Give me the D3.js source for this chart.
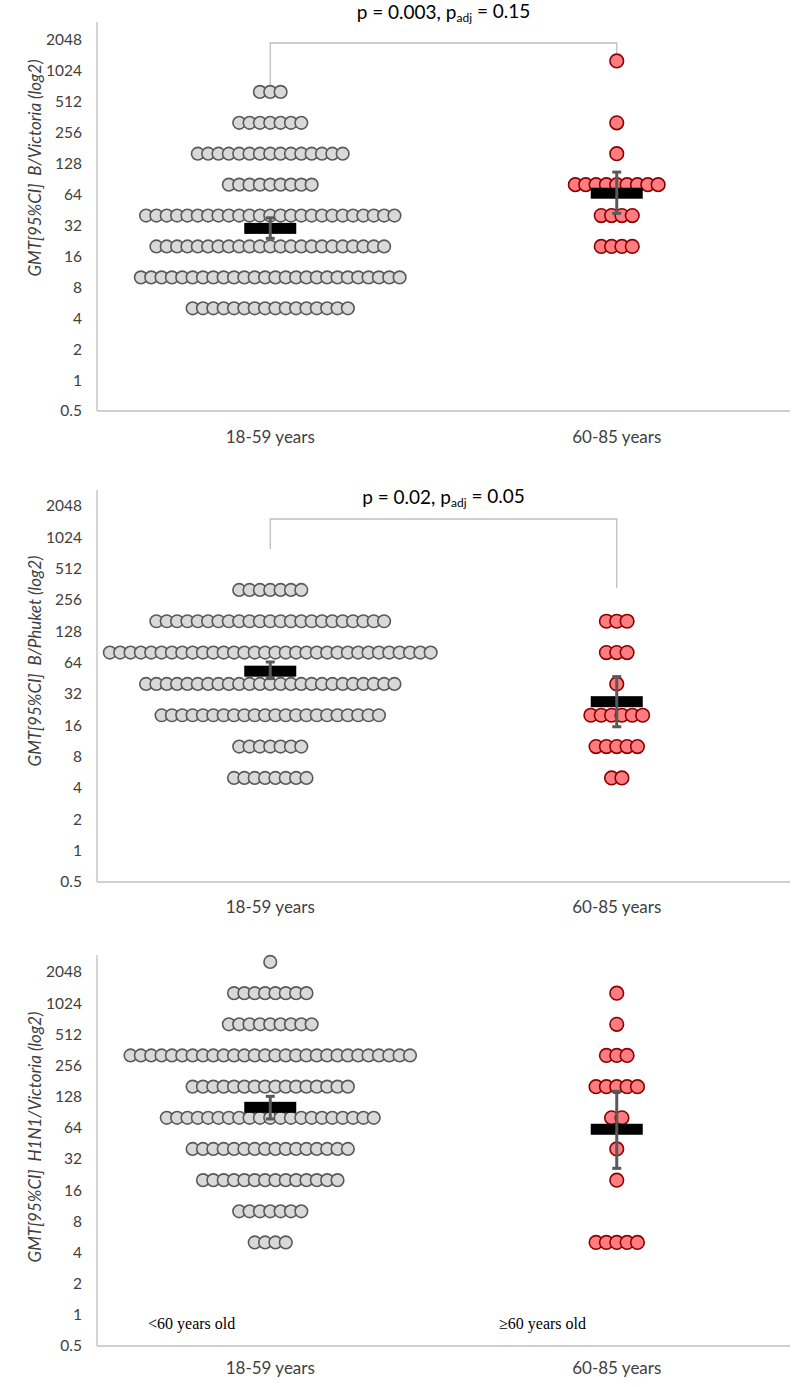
<!doctype html>
<html lang="en">
<head>
  <meta charset="UTF-8">
  <title>GMT by age group</title>
  <script src="https://cdn.jsdelivr.net/npm/d3@7"></script>
  <style>
    body { margin: 0; background: #fff; }
    .sans { font-family: Lato, "Open Sans", sans-serif; }
    .serif { font-family: "Liberation Serif", "DejaVu Serif", serif; }
    .pre { white-space: pre; }
  </style>
</head>
<body>
<div id="container"></div>
<script type="text/javascript">
// axis + groups
var tickValues = [0.5, 1, 2, 4, 8, 16, 32, 64, 128, 256, 512, 1024, 2048];
var groups = ['18-59 years', '60-85 years'];

// panel 1: B/Victoria
var titers1 = [5, 10, 20, 40, 80, 160, 320, 640, 1280];
var young1  = [16, 26, 23, 25, 9, 15, 7, 3, 0];
var old1    = [0, 0, 4, 4, 9, 1, 1, 0, 1];
var gmt1    = [30, 66];
var ciLow1  = [24, 42];
var ciHigh1 = [38, 106];

// panel 2: B/Phuket
var titers2 = [5, 10, 20, 40, 80, 160, 320];
var young2  = [8, 7, 22, 25, 32, 23, 7];
var old2    = [2, 5, 6, 1, 3, 3, 0];
var gmt2    = [53, 27];
var ciLow2  = [45, 15.5];
var ciHigh2 = [65, 47];

// panel 3: H1N1/Victoria
var titers3 = [5, 10, 20, 40, 80, 160, 320, 640, 1280, 2560];
var young3  = [4, 7, 14, 16, 21, 16, 28, 9, 8, 1];
var old3    = [5, 0, 1, 1, 2, 5, 3, 1, 1, 0];
var gmt3    = [101, 62];
var ciLow3  = [78, 26];
var ciHigh3 = [129, 144];

var svg = d3.select('#container').append('svg')
  .attr('width', 792)
  .attr('height', 1387);

var panels = [
  {top: 40, bottom: 411, axisTop: 22, xLabelY: 437, titleY: 12, bracket: [43, 96, 57],
   p: '0.003', padj: '0.15', yTitle: 'GMT[95%CI]  B/Victoria (log2)', yTitleY: 168,
   titers: titers1, young: young1, old: old1, gmt: gmt1, lo: ciLow1, hi: ciHigh1},
  {top: 506, bottom: 882, axisTop: 490, xLabelY: 907, titleY: 497, bracket: [519, 549, 588],
   p: '0.02', padj: '0.05', yTitle: 'GMT[95%CI]  B/Phuket (log2)', yTitleY: 661,
   titers: titers2, young: young2, old: old2, gmt: gmt2, lo: ciLow2, hi: ciHigh2},
  {top: 972, bottom: 1346, axisTop: 955, xLabelY: 1368, titleY: null,
   yTitle: 'GMT[95%CI]  H1N1/Victoria (log2)', yTitleY: 1137,
   titers: titers3, young: young3, old: old3, gmt: gmt3, lo: ciLow3, hi: ciHigh3}
];

var x = d3.scaleBand().domain(groups).range([97, 790]);
var dotStep = 10.35;
var styles = [
  {fill: '#d9d9d9', stroke: '#595959', r: 6.3},
  {fill: '#ff7c80', stroke: '#8b0000', r: 6.8}
];

panels.forEach(function(p, pi) {
  var g = svg.append('g').attr('class', 'sans');
  var y = d3.scaleLog().base(2).domain([0.5, 2048]).range([p.bottom, p.top]);

  // y tick labels
  g.selectAll('.ytick').data(tickValues).enter().append('text')
    .attr('x', 82)
    .attr('y', function(d) { return y(d); })
    .attr('dy', '0.35em')
    .attr('text-anchor', 'end')
    .attr('font-size', 15.5)
    .attr('fill', '#404040')
    .text(function(d) { return d; });

  // axis lines
  g.append('line').attr('x1', 97).attr('x2', 97).attr('y1', p.axisTop).attr('y2', p.bottom)
    .attr('stroke', '#bfbfbf').attr('stroke-width', 1.3);
  g.append('line').attr('x1', 97).attr('x2', 790).attr('y1', p.bottom).attr('y2', p.bottom)
    .attr('stroke', '#bfbfbf').attr('stroke-width', 1.3);

  // x labels
  g.selectAll('.xlab').data(groups).enter().append('text')
    .attr('x', function(d) { return x(d) + x.bandwidth() / 2; })
    .attr('y', p.xLabelY)
    .attr('dy', '0.35em')
    .attr('text-anchor', 'middle')
    .attr('font-size', 17)
    .attr('fill', '#404040')
    .text(function(d) { return d; });

  // y title
  g.append('text')
    .attr('class', 'pre')
    .attr('transform', 'translate(35,' + p.yTitleY + ') rotate(-90)')
    .attr('text-anchor', 'middle')
    .attr('dy', '0.35em')
    .attr('font-size', 17)
    .attr('font-style', 'italic')
    .attr('fill', '#404040')
    .text(p.yTitle);

  // bracket + p value
  if (p.titleY !== null) {
    var x0 = x(groups[0]) + x.bandwidth() / 2, x1 = x(groups[1]) + x.bandwidth() / 2;
    g.append('path')
      .attr('d', 'M' + x0 + ',' + p.bracket[1] + 'V' + p.bracket[0] + 'H' + x1 + 'V' + p.bracket[2])
      .attr('fill', 'none').attr('stroke', '#bfbfbf').attr('stroke-width', 1.3);
    var t = g.append('text')
      .attr('x', (x0 + x1) / 2)
      .attr('y', p.titleY)
      .attr('dy', '0.35em')
      .attr('text-anchor', 'middle')
      .attr('font-size', 19)
      .attr('fill', '#000');
    t.append('tspan').text('p = ' + p.p + ', p');
    t.append('tspan').attr('font-size', 12).attr('dy', '0.3em').text('adj');
    t.append('tspan').attr('dy', '-0.2em').text(' = ' + p.padj);
  }

  // dots
  [p.young, p.old].forEach(function(counts, gi) {
    var cx = x(groups[gi]) + x.bandwidth() / 2;
    var pts = [];
    counts.forEach(function(n, ti) {
      for (var i = 0; i < n; i++) {
        pts.push({v: p.titers[ti], off: (i - (n - 1) / 2) * dotStep});
      }
    });
    g.selectAll('.dot' + gi).data(pts).enter().append('circle')
      .attr('cx', function(d) { return cx + d.off; })
      .attr('cy', function(d) { return y(d.v); })
      .attr('r', styles[gi].r)
      .attr('fill', styles[gi].fill)
      .attr('stroke', styles[gi].stroke)
      .attr('stroke-width', 1.6);
  });

  // gmt bars + ci
  groups.forEach(function(grp, gi) {
    var cx = x(grp) + x.bandwidth() / 2;
    g.append('rect')
      .attr('x', cx - 26).attr('width', 52)
      .attr('y', y(p.gmt[gi]) - 5.5).attr('height', 11)
      .attr('fill', '#000');
    g.append('line')
      .attr('x1', cx).attr('x2', cx)
      .attr('y1', y(p.lo[gi])).attr('y2', y(p.hi[gi]))
      .attr('stroke', '#595959').attr('stroke-width', 3);
    [p.lo[gi], p.hi[gi]].forEach(function(v) {
      g.append('line')
        .attr('x1', cx - 4.5).attr('x2', cx + 4.5)
        .attr('y1', y(v)).attr('y2', y(v))
        .attr('stroke', '#595959').attr('stroke-width', 3);
    });
  });

  // age notes on last panel
  if (pi === 2) {
    g.append('text').attr('class', 'serif').attr('x', 148).attr('y', 1323).attr('dy', '0.35em')
      .attr('font-size', 16)
      .text('<60 years old');
    g.append('text').attr('class', 'serif').attr('x', 499).attr('y', 1323).attr('dy', '0.35em')
      .attr('font-size', 16)
      .text('\u226560 years old');
  }
});
</script>
</body>
</html>
